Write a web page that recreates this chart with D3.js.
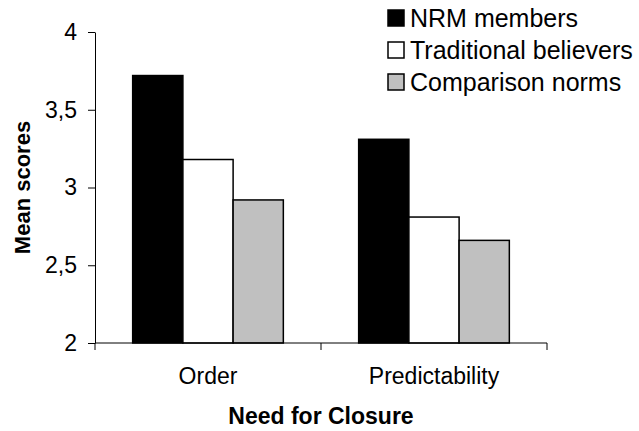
<!DOCTYPE html>
<html>
<head>
<meta charset="utf-8">
<script src="https://cdn.jsdelivr.net/npm/d3@7"></script>
<style>
  body { margin: 0; background: #fff; }
  svg { font-family: 'Liberation Sans', Arial, sans-serif; }
  .axis text { font-size: 23px; fill: #000; }
  .axis path, .axis line { stroke: #000; stroke-width: 1; }
</style>
</head>
<body>
<script>
// chart data
const categories = ['Order', 'Predictability'];
const series = ['NRM members', 'Traditional believers', 'Comparison norms'];
const nrmMembers = [3.72, 3.31];
const traditionalBelievers = [3.18, 2.81];
const comparisonNorms = [2.92, 2.66];
const yTicks = [2, 2.5, 3, 3.5, 4];

const values = [nrmMembers, traditionalBelievers, comparisonNorms];
const fills = ['#000000', '#ffffff', '#c0c0c0'];

const margin = { top: 32, bottom: 88, left: 95, right: 92 };
const W = 639;
const H = 431;
const width = W - margin.left - margin.right;
const height = H - margin.top - margin.bottom;

const svg = d3.select('body').append('svg')
  .attr('width', W)
  .attr('height', H);

const g = svg.append('g')
  .attr('transform', `translate(${margin.left},${margin.top})`);

// outer band per category, inner band per series (gap of 1.5 bar widths)
const x0 = d3.scaleBand().domain(categories).range([0, width]).padding(0);
const x1 = d3.scaleBand().domain(series).range([0, x0.bandwidth()])
  .paddingInner(0).paddingOuter(0.75);
const y = d3.scaleLinear().domain([2, 4]).range([height, 0]);

const locale = d3.formatLocale({ decimal: ',', thousands: '.', grouping: [3], currency: ['', ''] });
const fmt = locale.format('~g');

// y axis
g.append('g').attr('class', 'axis')
  .call(d3.axisLeft(y).tickValues(yTicks).tickFormat(fmt).tickSize(7).tickPadding(11).tickSizeOuter(0));

// bars
const rows = [];
categories.forEach((c, i) => {
  series.forEach((s, j) => {
    rows.push({ cat: c, ser: s, value: values[j][i], fill: fills[j] });
  });
});

g.selectAll('.bar').data(rows).enter().append('rect')
  .attr('class', 'bar')
  .attr('x', d => x0(d.cat) + x1(d.ser))
  .attr('y', d => y(d.value))
  .attr('width', x1.bandwidth())
  .attr('height', d => height - y(d.value))
  .attr('fill', d => d.fill)
  .attr('stroke', '#000')
  .attr('stroke-width', 1.5);

// x axis: ticks at category boundaries, labels centred in bands
const xAxis = g.append('g').attr('class', 'axis')
  .attr('transform', `translate(0,${height})`);
xAxis.append('line').attr('x1', 0).attr('x2', width).attr('stroke', '#000');
xAxis.selectAll('.tick').data(d3.range(categories.length + 1)).enter().append('line')
  .attr('x1', i => i * x0.step())
  .attr('x2', i => i * x0.step())
  .attr('y1', 0)
  .attr('y2', 7)
  .attr('stroke', '#000');
xAxis.selectAll('text').data(categories).enter().append('text')
  .attr('x', d => x0(d) + x0.bandwidth() / 2)
  .attr('y', 41)
  .attr('text-anchor', 'middle')
  .text(d => d);

// axis titles
svg.append('text')
  .attr('transform', `translate(30,${margin.top + height / 2}) rotate(-90)`)
  .attr('text-anchor', 'middle')
  .attr('font-size', '22px')
  .attr('font-weight', 'bold')
  .text('Mean scores');

svg.append('text')
  .attr('x', margin.left + width / 2)
  .attr('y', 424)
  .attr('text-anchor', 'middle')
  .attr('font-size', '23px')
  .attr('font-weight', 'bold')
  .text('Need for Closure');

// legend
const legend = svg.append('g').attr('transform', 'translate(388,18)');
const item = legend.selectAll('g').data(series).enter().append('g')
  .attr('transform', (d, i) => `translate(0,${i * 32})`);
item.append('rect')
  .attr('y', -8)
  .attr('width', 16)
  .attr('height', 16)
  .attr('fill', (d, i) => fills[i])
  .attr('stroke', '#000')
  .attr('stroke-width', 1.5);
item.append('text')
  .attr('x', 22)
  .attr('y', 9)
  .attr('font-size', '25px')
  .text(d => d);
</script>
</body>
</html>
